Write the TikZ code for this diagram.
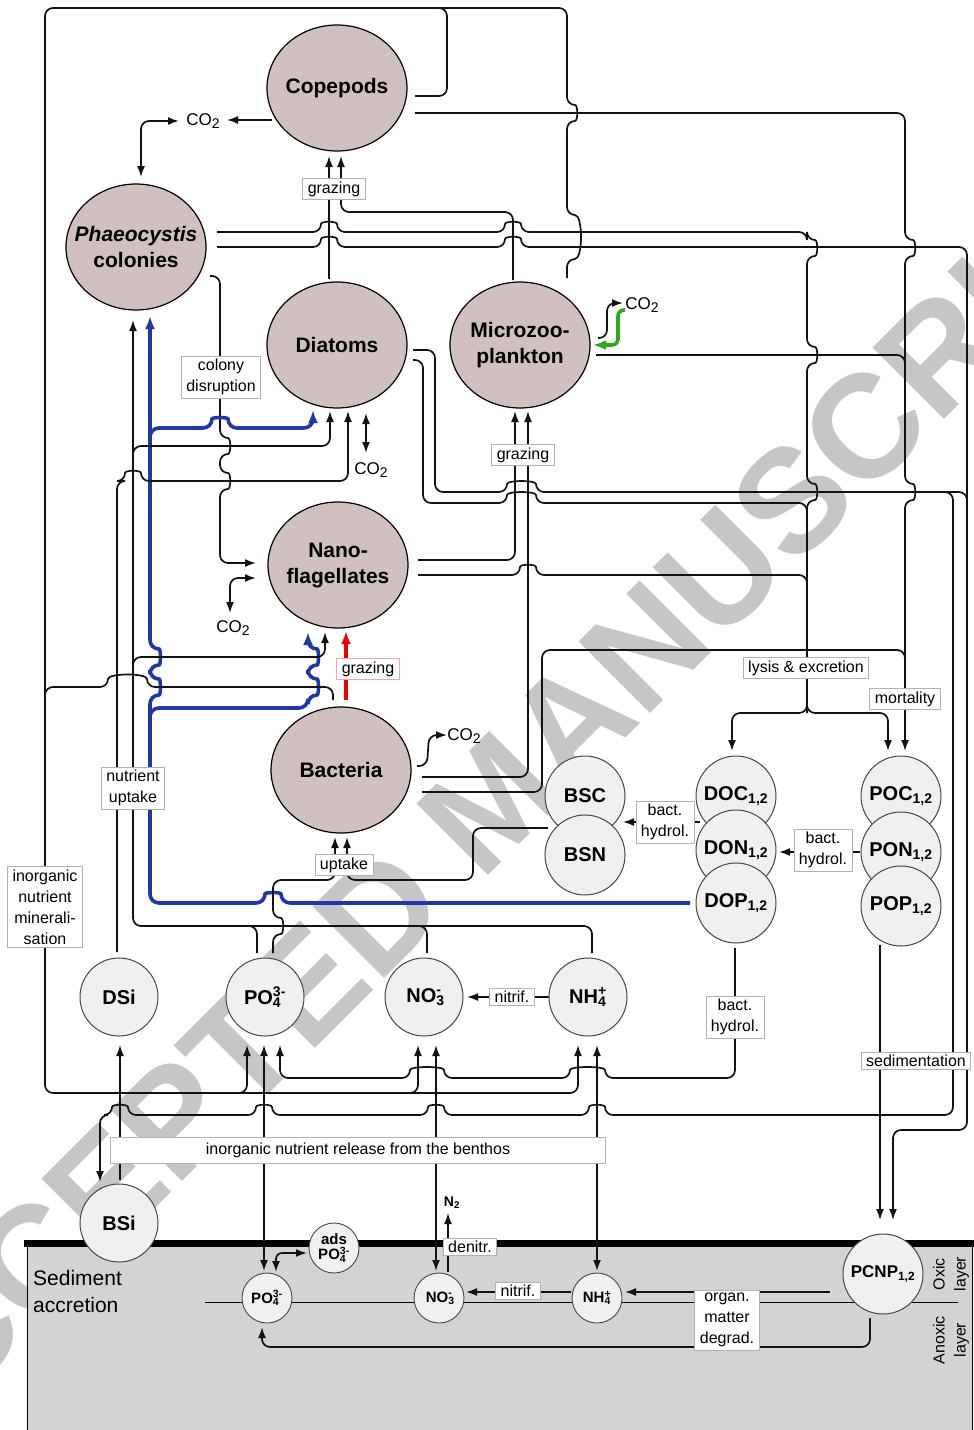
\documentclass[tikz,border=0pt]{standalone}
\usepackage{fontspec}
\setmainfont{Liberation Sans}
\usetikzlibrary{shapes.geometric,arrows.meta}
\pgfdeclarelayer{back}
\pgfdeclarelayer{lines}
\pgfsetlayers{back,lines,main}
\definecolor{bigc}{RGB}{209,192,192}
\definecolor{smc}{RGB}{242,239,239}
\definecolor{sedc}{RGB}{211,211,211}
\definecolor{labc}{RGB}{178,178,178}
\definecolor{bluec}{RGB}{32,56,164}
\definecolor{redc}{RGB}{238,0,0}
\definecolor{pinkc}{RGB}{244,165,165}
\definecolor{greenc}{RGB}{44,168,30}
\definecolor{wmc}{RGB}{198,198,200}
\definecolor{lnc}{RGB}{18,18,18}
\definecolor{smb}{RGB}{70,70,70}
\newcommand{\ion}[2]{\rlap{\textsubscript{#1}}\textsuperscript{#2}}
\newcommand{\cotwo}{CO\raisebox{-0.3ex}{\fontsize{14}{14}\selectfont 2}}
\newcommand\hopR[2]{-- ({#1-8},#2) .. controls ({#1-8},{#2-11}) and ({#1+8},{#2-11}) .. ({#1+8},#2)}
\newcommand\hopL[2]{-- ({#1+8},#2) .. controls ({#1+8},{#2-11}) and ({#1-8},{#2-11}) .. ({#1-8},#2)}
\newcommand\hopRw[3]{-- ({#1-8},#3) .. controls ({#1-8},{#3-12}) and ({#2+8},{#3-12}) .. ({#2+8},#3)}
\newcommand\hopLw[3]{-- ({#2+8},#3) .. controls ({#2+8},{#3-12}) and ({#1-8},{#3-12}) .. ({#1-8},#3)}
\newcommand\hopD[2]{-- (#1,{#2-8}) .. controls ({#1+11},{#2-8}) and ({#1+11},{#2+8}) .. (#1,{#2+8})}
\newcommand\hopU[2]{-- (#1,{#2+8}) .. controls ({#1+11},{#2+8}) and ({#1+11},{#2-8}) .. (#1,{#2-8})}
\begin{document}
\begin{tikzpicture}[x=1pt,y=-1pt,
 >={Latex[length=11pt,width=8pt]},
 ln/.style={draw=lnc,line width=1.7pt,rounded corners=8pt},
 thk/.style={line width=3.6pt,rounded corners=9pt,>={Latex[length=13pt,width=10pt]}},
 big/.style={ellipse,draw=black,line width=1.2pt,fill=bigc,minimum width=140pt,minimum height=126pt,inner xsep=-22pt,inner ysep=-12pt,align=center,font=\fontsize{21}{26}\selectfont\bfseries},
 sm/.style={circle,draw=smb,line width=1pt,fill=smc,minimum size=80pt,inner sep=0pt,font=\fontsize{20}{24}\selectfont\bfseries},
 nut/.style={sm,minimum size=78pt},
 tn/.style={circle,draw=smb,line width=0.9pt,fill=smc,minimum size=50pt,inner sep=0pt,align=center,font=\fontsize{15}{18}\selectfont\bfseries},
 lab/.style={draw=labc,fill=white,line width=0.9pt,inner xsep=5pt,inner ysep=3pt,align=center,font=\fontsize{16}{21}\selectfont},
 txt/.style={inner sep=0pt,font=\fontsize{17}{20}\selectfont}]
\useasboundingbox (0,0) rectangle (974,1430);

% ---------- background: watermark and sediment ----------
\begin{pgfonlayer}{back}
\node[text=wmc,rotate=45,font=\fontsize{147}{150}\selectfont\bfseries] (wm) at (492,800) {ACCEPTED MANUSCRIPT};
\fill[sedc] (27,1243) rectangle (972,1430);
\draw[line width=0.8pt] (27,1243) -- (27,1430) (972,1243) -- (972,1430);
\draw[line width=0.8pt] (205,1302) -- (958,1302);
\draw[line width=7pt] (24,1243) -- (974,1243);
\end{pgfonlayer}

% ---------- nodes ----------
\node[big] (cop) at (337,88) {Copepods};
\node[big] (pha) at (136,247) {\textit{Phaeocystis}\\colonies};
\node[big] (dia) at (337,345) {Diatoms};
\node[big] (mic) at (520,345) {Microzoo-\\plankton};
\node[big] (nan) at (338,565) {Nano-\\flagellates};
\node[big] (bac) at (341,770) {Bacteria};

\node[sm] (bsc) at (585,796) {BSC};
\node[sm] (bsn) at (585,855) {BSN};
\node[sm] (doc) at (736,796) {DOC\textsubscript{1,2}};
\node[sm] (don) at (736,850) {DON\textsubscript{1,2}};
\node[sm] (dop) at (736,903) {DOP\textsubscript{1,2}};
\node[sm] (poc) at (901,796) {POC\textsubscript{1,2}};
\node[sm] (pon) at (901,852) {PON\textsubscript{1,2}};
\node[sm] (pop) at (901,906) {POP\textsubscript{1,2}};

\node[nut] (dsi) at (119,997) {DSi};
\node[nut] (po4) at (265,997) {PO\ion{4}{3-}};
\node[nut] (no3) at (424,997) {NO\ion{3}{-}};
\node[nut] (nh4) at (588,997) {NH\ion{4}{+}};
\node[nut] (bsi) at (119,1223) {BSi};

\node[tn] (ads) at (334,1248) {ads\\[-3pt]PO\ion{4}{3-}};
\node[tn] (spo4) at (267,1298) {PO\ion{4}{3-}};
\node[tn] (sno3) at (439,1298) {NO\ion{3}{-}};
\node[tn] (snh4) at (597,1298) {NH\ion{4}{+}};
\node[sm,font=\fontsize{17}{20}\selectfont\bfseries] (pcnp) at (883,1274) {PCNP\textsubscript{1,2}};

% ---------- connectors ----------
\begin{pgfonlayer}{lines}
% copepods -> outer loop -> nutrient bus
\draw[ln,->] (415,96) -- (447,96) -- (447,8) -- (45,8) -- (45,1093) -- (578,1093) -- (578,1045);
\draw[ln,->] (225,1093) -- (247,1093) -- (247,1045);
\draw[ln,->] (395,1093) -- (418,1093) -- (418,1045);
% microzooplankton -> outer loop
\draw[ln] (567,278) -- (567,259) .. controls (583,259) and (583,215) .. (567,215) \hopU{567}{113} -- (567,8) -- (430,8);
% copepods CO2
\draw[ln,->] (272,120) -- (227,120);
\draw[ln,<->] (141,177) -- (141,121) -- (179,121);
% grazing on copepods
\draw[ln,->] (329,279) -- (329,156);
\draw[ln,->] (513,280) -- (513,212) -- (341,212) -- (341,156);
% phaeocystis -> lysis & excretion
\draw[ln] (217,232) \hopR{329}{232} \hopR{513}{232} -- (807,232) \hopD{807}{248} \hopD{807}{355} \hopD{807}{492} -- (807,713);
\draw[ln,->] (807,700) -- (807,713) -- (732,713) -- (732,751);
\draw[ln,->] (807,700) -- (807,713) -- (888,713) -- (888,751);
% phaeocystis -> sedimentation
\draw[ln,->] (217,247) \hopR{329}{247} \hopR{513}{247} -- (967,247) -- (967,1130) -- (893,1130) -- (893,1220);
% copepods -> mortality
\draw[ln,->] (415,113) -- (905,113) \hopD{905}{248} \hopD{905}{492} -- (905,751);
% microzooplankton -> mortality
\draw[ln] (596,355) -- (905,355) -- (905,375);
% diatoms
\draw[ln] (413,350) -- (435,350) -- (435,492) \hopRw{515}{528}{492} -- (967,492) -- (967,512);
\draw[ln,->] (936,492) -- (953,492) -- (953,1115) \hopL{597}{1115} \hopL{436}{1115} \hopL{264}{1115} \hopL{120}{1115} -- (100,1115) -- (100,1182);
\draw[ln] (413,360) -- (423,360) -- (423,503) \hopRw{515}{528}{503} -- (807,503) -- (807,522);
% nanoflagellates
\draw[ln,->] (418,560) -- (515,560) -- (515,411);
\draw[ln] (418,575) \hopR{528}{575} -- (807,575) -- (807,594);
% bacteria
\draw[ln,->] (422,777) -- (528,777) -- (528,411);
\draw[ln] (422,792) -- (542,792) -- (542,650) -- (905,650) -- (905,670);
\draw[ln,->] (417,766) -- (427,766) -- (429,735) -- (447,735);
% colony disruption
\draw[ln,->] (210,276) -- (220,276) \hopD{220}{446} \hopD{220}{481} -- (220,563) -- (256,563);
% CO2 exchanges
\draw[ln,<->] (230,613) -- (230,578) -- (256,578);
\draw[ln,<->] (366,413) -- (366,453);
% microzooplankton CO2
\draw[ln,->] (598,338) -- (607,338) -- (607,303) -- (623,303);
\draw[thk,draw=greenc,rounded corners=6pt,->] (625,310) -- (618,310) -- (618,345) -- (593,345);
% blue nutrient uptake from DOP
\draw[thk,draw=bluec,->] (690,903) \hopL{273}{903} -- (150,903) \hopU{150}{687} \hopU{150}{657} -- (150,316);
\draw[thk,draw=bluec,->] (150,445) -- (150,428) \hopR{220}{428} -- (313,428) -- (313,410);
\draw[thk,draw=bluec,->] (150,725) -- (150,708) -- (308,708) \hopU{308}{687} \hopU{308}{657} -- (308,632);
% inorganic nutrient uptake (N, P)
\draw[ln,->] (592,953) -- (592,926) -- (133,926) -- (133,320);
\draw[ln] (257,953) -- (257,926) -- (240,926);
\draw[ln] (427,953) -- (427,926) -- (410,926);
\draw[ln,->] (133,462) -- (133,446) -- (330,446) -- (330,411);
\draw[ln,->] (133,673) -- (133,657) -- (325,657) -- (325,632);
% DSi -> diatoms
\draw[ln,->] (117,952) -- (117,481) \hopR{133}{481} -- (348,481) -- (348,411);
% bacteria mineralisation
\draw[ln] (333,700) -- (333,687) -- (147,687) .. controls (147,673) and (108,673) .. (108,687) -- (45,687) -- (45,705);
% bacterial uptake
\draw[ln,->] (273,953) \hopU{273}{926} -- (273,880) -- (335,880) -- (335,837);
\draw[ln,->] (548,828) -- (473,828) -- (473,880) -- (347,880) -- (347,837);
% grazing of bacteria by nanoflagellates
\draw[thk,draw=redc,->] (346,700) -- (346,631);
% hydrolysis
\draw[ln,->] (700,822) -- (623,822);
\draw[ln,->] (860,852) -- (779,852);
\draw[ln,->] (735,948) -- (735,1078) \hopLw{578}{597}{1078} \hopLw{418}{436}{1078} -- (280,1078) -- (280,1045);
% sedimentation
\draw[ln,->] (880,945) -- (880,1220);
% benthic exchanges
\draw[ln,->] (120,1180) -- (120,1045);
\draw[ln,<->] (264,1045) -- (264,1271);
\draw[ln,<->,rounded corners=6pt] (276,1272) -- (276,1253) -- (307,1253);
\draw[ln,<->] (436,1045) -- (436,1271);
\draw[ln,->] (448,1272) -- (448,1213);
\draw[ln,<->] (597,1045) -- (597,1271);
\draw[ln,->] (571,1292) -- (466,1292);
\draw[ln,->] (830,1292) -- (625,1292);
\draw[ln,->] (870,1318) -- (870,1347) -- (262,1347) -- (262,1327);
\draw[ln,->] (549,997) -- (467,997);
\end{pgfonlayer}

% ---------- labels ----------
\node[lab] (l1) at (334,189) {grazing};
\node[lab] (l2) at (221,377) {colony\\disruption};
\node[lab] (l3) at (523,455) {grazing};
\node[lab,draw=pinkc] (l4) at (368,669) {grazing};
\node[lab] (l5) at (806,668) {lysis \& excretion};
\node[lab] (l6) at (905,699) {mortality};
\node[lab] (l7) at (133,788) {nutrient\\uptake};
\node[lab] (l8) at (344,865) {uptake};
\node[lab] (l9) at (665,822) {bact.\\hydrol.};
\node[lab] (l10) at (823,850) {bact.\\hydrol.};
\node[lab] (l11) at (45,907) {inorganic\\nutrient\\minerali-\\sation};
\node[lab] (l12) at (512,997) {nitrif.};
\node[lab] (l13) at (735,1017) {bact.\\hydrol.};
\node[lab] (l14) at (916,1061) {sedimentation};
\node[lab,minimum width=495pt,minimum height=26pt] (l15) at (358,1150) {inorganic nutrient release from the benthos};
\node[lab] (l16) at (470,1247) {denitr.};
\node[lab] (l17) at (518,1291) {nitrif.};
\node[lab] (l18) at (727,1320) {organ.\\matter\\degrad.};

\node[txt] (c1) at (203,121) {\cotwo};
\node[txt] (c2) at (371,470) {\cotwo};
\node[txt] (c3) at (233,628) {\cotwo};
\node[txt] (c4) at (464,736) {\cotwo};
\node[txt] (c5) at (642,305) {\cotwo};
\node[inner sep=0pt,font=\fontsize{14}{16}\selectfont\bfseries] (n2) at (452,1203) {N\textsubscript{2}};

\node[anchor=west,align=left,inner sep=0pt,font=\fontsize{21}{27}\selectfont] (sed) at (33,1291) {Sediment\\accretion};
\node[rotate=90,align=center,inner sep=0pt,font=\fontsize{16}{21}\selectfont] (oxic) at (951,1274) {Oxic\\layer};
\node[rotate=90,align=center,inner sep=0pt,font=\fontsize{16}{21}\selectfont] (anox) at (951,1340) {Anoxic\\layer};
\end{tikzpicture}
\end{document}
